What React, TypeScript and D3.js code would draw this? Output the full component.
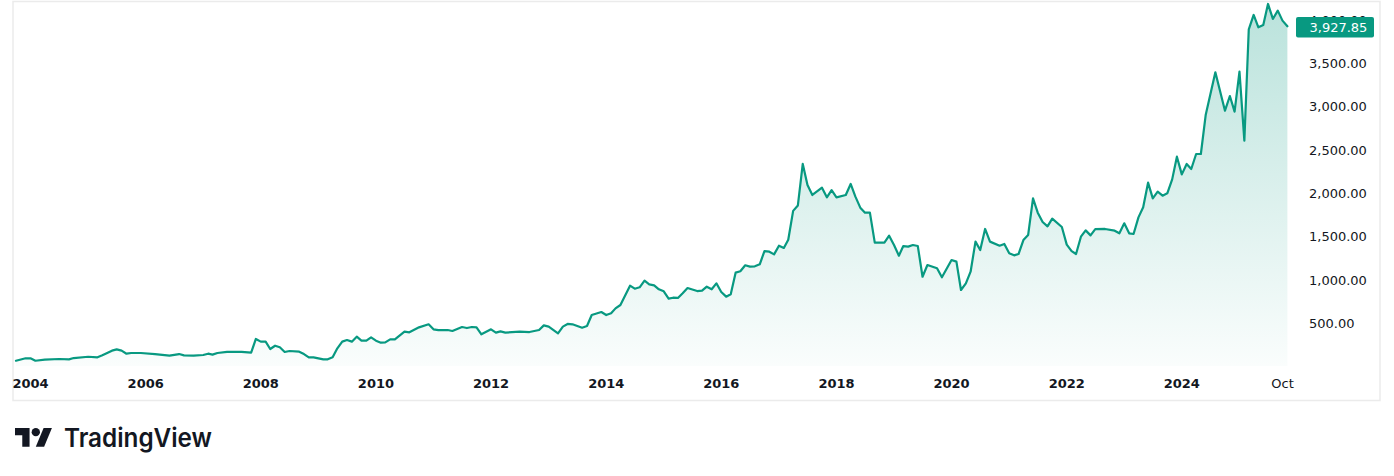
import React from 'react';
import * as d3 from 'd3';

// Monthly closes
const dates: string[] = [
  '2003-10','2003-12','2004-01','2004-02','2004-04','2004-07','2004-09','2004-10',
  '2005-01','2005-03','2005-04','2005-06','2005-07','2005-08','2005-09','2005-10','2005-12',
  '2006-03','2006-06','2006-08','2006-09','2006-11',
  '2007-01','2007-02','2007-03','2007-04','2007-06','2007-09','2007-11','2007-12',
  '2008-01','2008-02','2008-03','2008-04','2008-05','2008-06','2008-07','2008-09','2008-10','2008-11','2008-12',
  '2009-02','2009-03','2009-04','2009-05','2009-06','2009-07','2009-08','2009-09','2009-10','2009-11','2009-12',
  '2010-01','2010-02','2010-03','2010-04','2010-05','2010-07','2010-08','2010-10','2010-12',
  '2011-01','2011-02','2011-04','2011-05','2011-07','2011-08','2011-09','2011-10','2011-11',
  '2012-01','2012-02','2012-03','2012-04','2012-07','2012-09','2012-11','2012-12',
  '2013-01','2013-03','2013-04','2013-05','2013-06','2013-08','2013-09','2013-10','2013-12',
  '2014-01','2014-02','2014-03','2014-04','2014-06','2014-07','2014-08','2014-09','2014-10','2014-11','2014-12',
  '2015-01','2015-02','2015-03','2015-04','2015-05','2015-06','2015-08','2015-09','2015-10','2015-11','2015-12',
  '2016-01','2016-02','2016-03','2016-04','2016-05','2016-06','2016-07','2016-08','2016-09','2016-10','2016-11','2016-12',
  '2017-01','2017-02','2017-03','2017-04','2017-05','2017-06','2017-07','2017-08','2017-10','2017-11','2017-12',
  '2018-01','2018-03','2018-04','2018-05','2018-06','2018-07','2018-08','2018-09','2018-11','2018-12',
  '2019-01','2019-02','2019-03','2019-04','2019-05','2019-06','2019-07','2019-08','2019-10','2019-11',
  '2020-01','2020-02','2020-03','2020-04','2020-05','2020-06','2020-07','2020-08','2020-09','2020-11','2020-12',
  '2021-01','2021-02','2021-03','2021-04','2021-05','2021-06','2021-07','2021-08','2021-09','2021-10','2021-12',
  '2022-01','2022-02','2022-03','2022-04','2022-05','2022-06','2022-07','2022-09','2022-11','2022-12',
  '2023-01','2023-02','2023-03','2023-04','2023-05','2023-06','2023-07','2023-08','2023-09','2023-10','2023-11','2023-12',
  '2024-01','2024-02','2024-03','2024-04','2024-05','2024-06','2024-08','2024-10','2024-11','2024-12',
  '2025-01','2025-02','2025-03','2025-04','2025-05','2025-06','2025-07','2025-08','2025-09','2025-10','2025-11',
];

const values: number[] = [
  69, 97, 97, 69, 81, 89, 85, 100,
  115, 108, 131, 185, 200, 185, 150, 158, 158,
  146, 127, 146, 131, 127,
  135, 150, 139, 158, 170, 170, 162, 320,
  289, 289, 204, 242, 224, 170, 181, 173, 146, 108, 108,
  85, 85, 108, 212, 289, 308, 289, 346, 300, 300, 339,
  300, 277, 281, 316, 316, 404, 397, 454, 489,
  431, 423, 423, 412, 458, 446, 458, 454, 374,
  431, 393, 408, 393, 404, 400, 423, 477,
  462, 385, 462, 493, 489, 450, 470, 596, 631,
  596, 616, 673, 712, 935, 900, 916, 993, 950, 939, 893,
  870, 785, 796, 793, 847, 908, 873, 877, 923, 893, 962,
  862, 808, 835, 1085, 1101, 1170, 1154, 1158, 1181, 1334, 1327, 1296,
  1396, 1370, 1465, 1798, 1860, 2339, 2096, 1981, 2065, 1954, 2038,
  1954, 1981, 2108, 1962, 1835, 1777, 1777, 1431, 1431, 1512,
  1404, 1281, 1392, 1385, 1404, 1392, 1038, 1173, 1135, 1031,
  1231, 1212, 885, 962, 1096, 1443, 1346, 1589, 1443, 1396, 1416,
  1308, 1285, 1300, 1461, 1519, 1942, 1777, 1670, 1619, 1708, 1612,
  1408, 1333, 1300, 1500, 1573, 1515, 1587, 1589, 1569, 1539,
  1654, 1539, 1531, 1723, 1839, 2123, 1942, 2019, 1973, 2000, 2161, 2423,
  2219, 2339, 2281, 2454, 2454, 2908, 3397, 2954, 3123, 2943,
  3404, 2608, 3893, 4058, 3916, 3943, 4185, 4012, 4108, 3993, 3927.85,
];

const yTicks: number[] = [500, 1000, 1500, 2000, 2500, 3000, 3500, 4000];
const yearTicks: number[] = [2004, 2006, 2008, 2010, 2012, 2014, 2016, 2018, 2020, 2022, 2024];
const monthTickLabel = 'Oct';
const monthTickDate = '2025-10';

const GREEN = '#089981';
const TEXT = '#131722';
const FONT = '"DejaVu Sans", Verdana, sans-serif';

export default function App() {
  const W = 1394;
  const H = 476;
  const parse = d3.timeParse('%Y-%m');
  const data = dates.map((d, i) => ({ date: parse(d) as Date, value: values[i] }));

  const x = d3
    .scaleTime()
    .domain([new Date(2004, 0, 1), new Date(2025, 9, 1)])
    .range([30.5, 1282.5]);
  const y = d3.scaleLinear().domain([0, 4000]).range([366.7, 20]);
  const paneBottom = 366;
  const paneLeft = 13;
  const paneRight = 1290;

  const line = d3
    .line<{ date: Date; value: number }>()
    .x((d) => x(d.date))
    .y((d) => y(d.value));
  const area = d3
    .area<{ date: Date; value: number }>()
    .x((d) => x(d.date))
    .y0(paneBottom)
    .y1((d) => y(d.value));

  const maxV = d3.max(values) as number;
  const last = values[values.length - 1];
  const lastY = y(last) + 1;
  const fmt = d3.format(',.2f');

  // TradingView logo path (36x28 viewbox)
  const logoScale = 1.04;

  return (
    <svg
      width={W}
      height={H}
      style={{ position: 'absolute', left: 0, top: 0, background: '#ffffff' }}
    >
      <defs>
        <linearGradient
          id="areaGrad"
          gradientUnits="userSpaceOnUse"
          x1={0}
          x2={0}
          y1={y(maxV)}
          y2={paneBottom}
        >
          <stop offset="0%" stopColor={GREEN} stopOpacity={0.28} />
          <stop offset="100%" stopColor={GREEN} stopOpacity={0.02} />
        </linearGradient>
        <clipPath id="paneClip">
          <rect x={paneLeft} y={1} width={paneRight - paneLeft} height={paneBottom - 1} />
        </clipPath>
      </defs>

      {/* frame */}
      <rect
        x={13}
        y={1.5}
        width={1367}
        height={399}
        fill="none"
        stroke="#ebebeb"
        strokeWidth={1.5}
      />

      <g clipPath="url(#paneClip)">
        <path d={area(data) as string} fill="url(#areaGrad)" />
        <path
          d={line(data) as string}
          fill="none"
          stroke={GREEN}
          strokeWidth={2.2}
          strokeLinejoin="round"
          strokeLinecap="round"
        />
      </g>

      {/* price axis labels */}
      <g fontFamily={FONT} fontSize={13} fill={TEXT}>
        {yTicks.map((t) => (
          <text key={t} x={1309} y={y(t)} dominantBaseline="central">
            {fmt(t)}
          </text>
        ))}
      </g>

      {/* last price label */}
      <rect x={1296} y={lastY - 10.3} width={78} height={20.6} rx={2} fill={GREEN} />
      <text
        x={1309.5}
        y={lastY}
        dominantBaseline="central"
        fontFamily={FONT}
        fontSize={13}
        fill="#ffffff"
      >
        {fmt(last)}
      </text>

      {/* time axis labels */}
      <g fontFamily={FONT} fontSize={13} fill={TEXT} textAnchor="middle">
        {yearTicks.map((yr) => (
          <text
            key={yr}
            x={x(new Date(yr, 0, 1))}
            y={383.5}
            dominantBaseline="central"
            fontWeight="bold"
          >
            {yr}
          </text>
        ))}
        <text x={x(parse(monthTickDate) as Date)} y={383.5} dominantBaseline="central">
          {monthTickLabel}
        </text>
      </g>

      {/* TradingView logo */}
      <g transform={`translate(15, ${428 - 4 * logoScale}) scale(${logoScale})`} fill={TEXT}>
        <path d="M14 22H7V11H0V4h14v18z" />
        <path d="M28 22h-8l7.5-18h8L28 22z" />
        <circle cx={20} cy={8} r={4} />
      </g>
      <text
        x={64}
        y={447}
        fontFamily="Inter, 'Open Sans', sans-serif"
        fontWeight={600}
        fontSize={26}
        fill={TEXT}
        textLength={148}
        lengthAdjust="spacingAndGlyphs"
      >
        TradingView
      </text>
    </svg>
  );
}
